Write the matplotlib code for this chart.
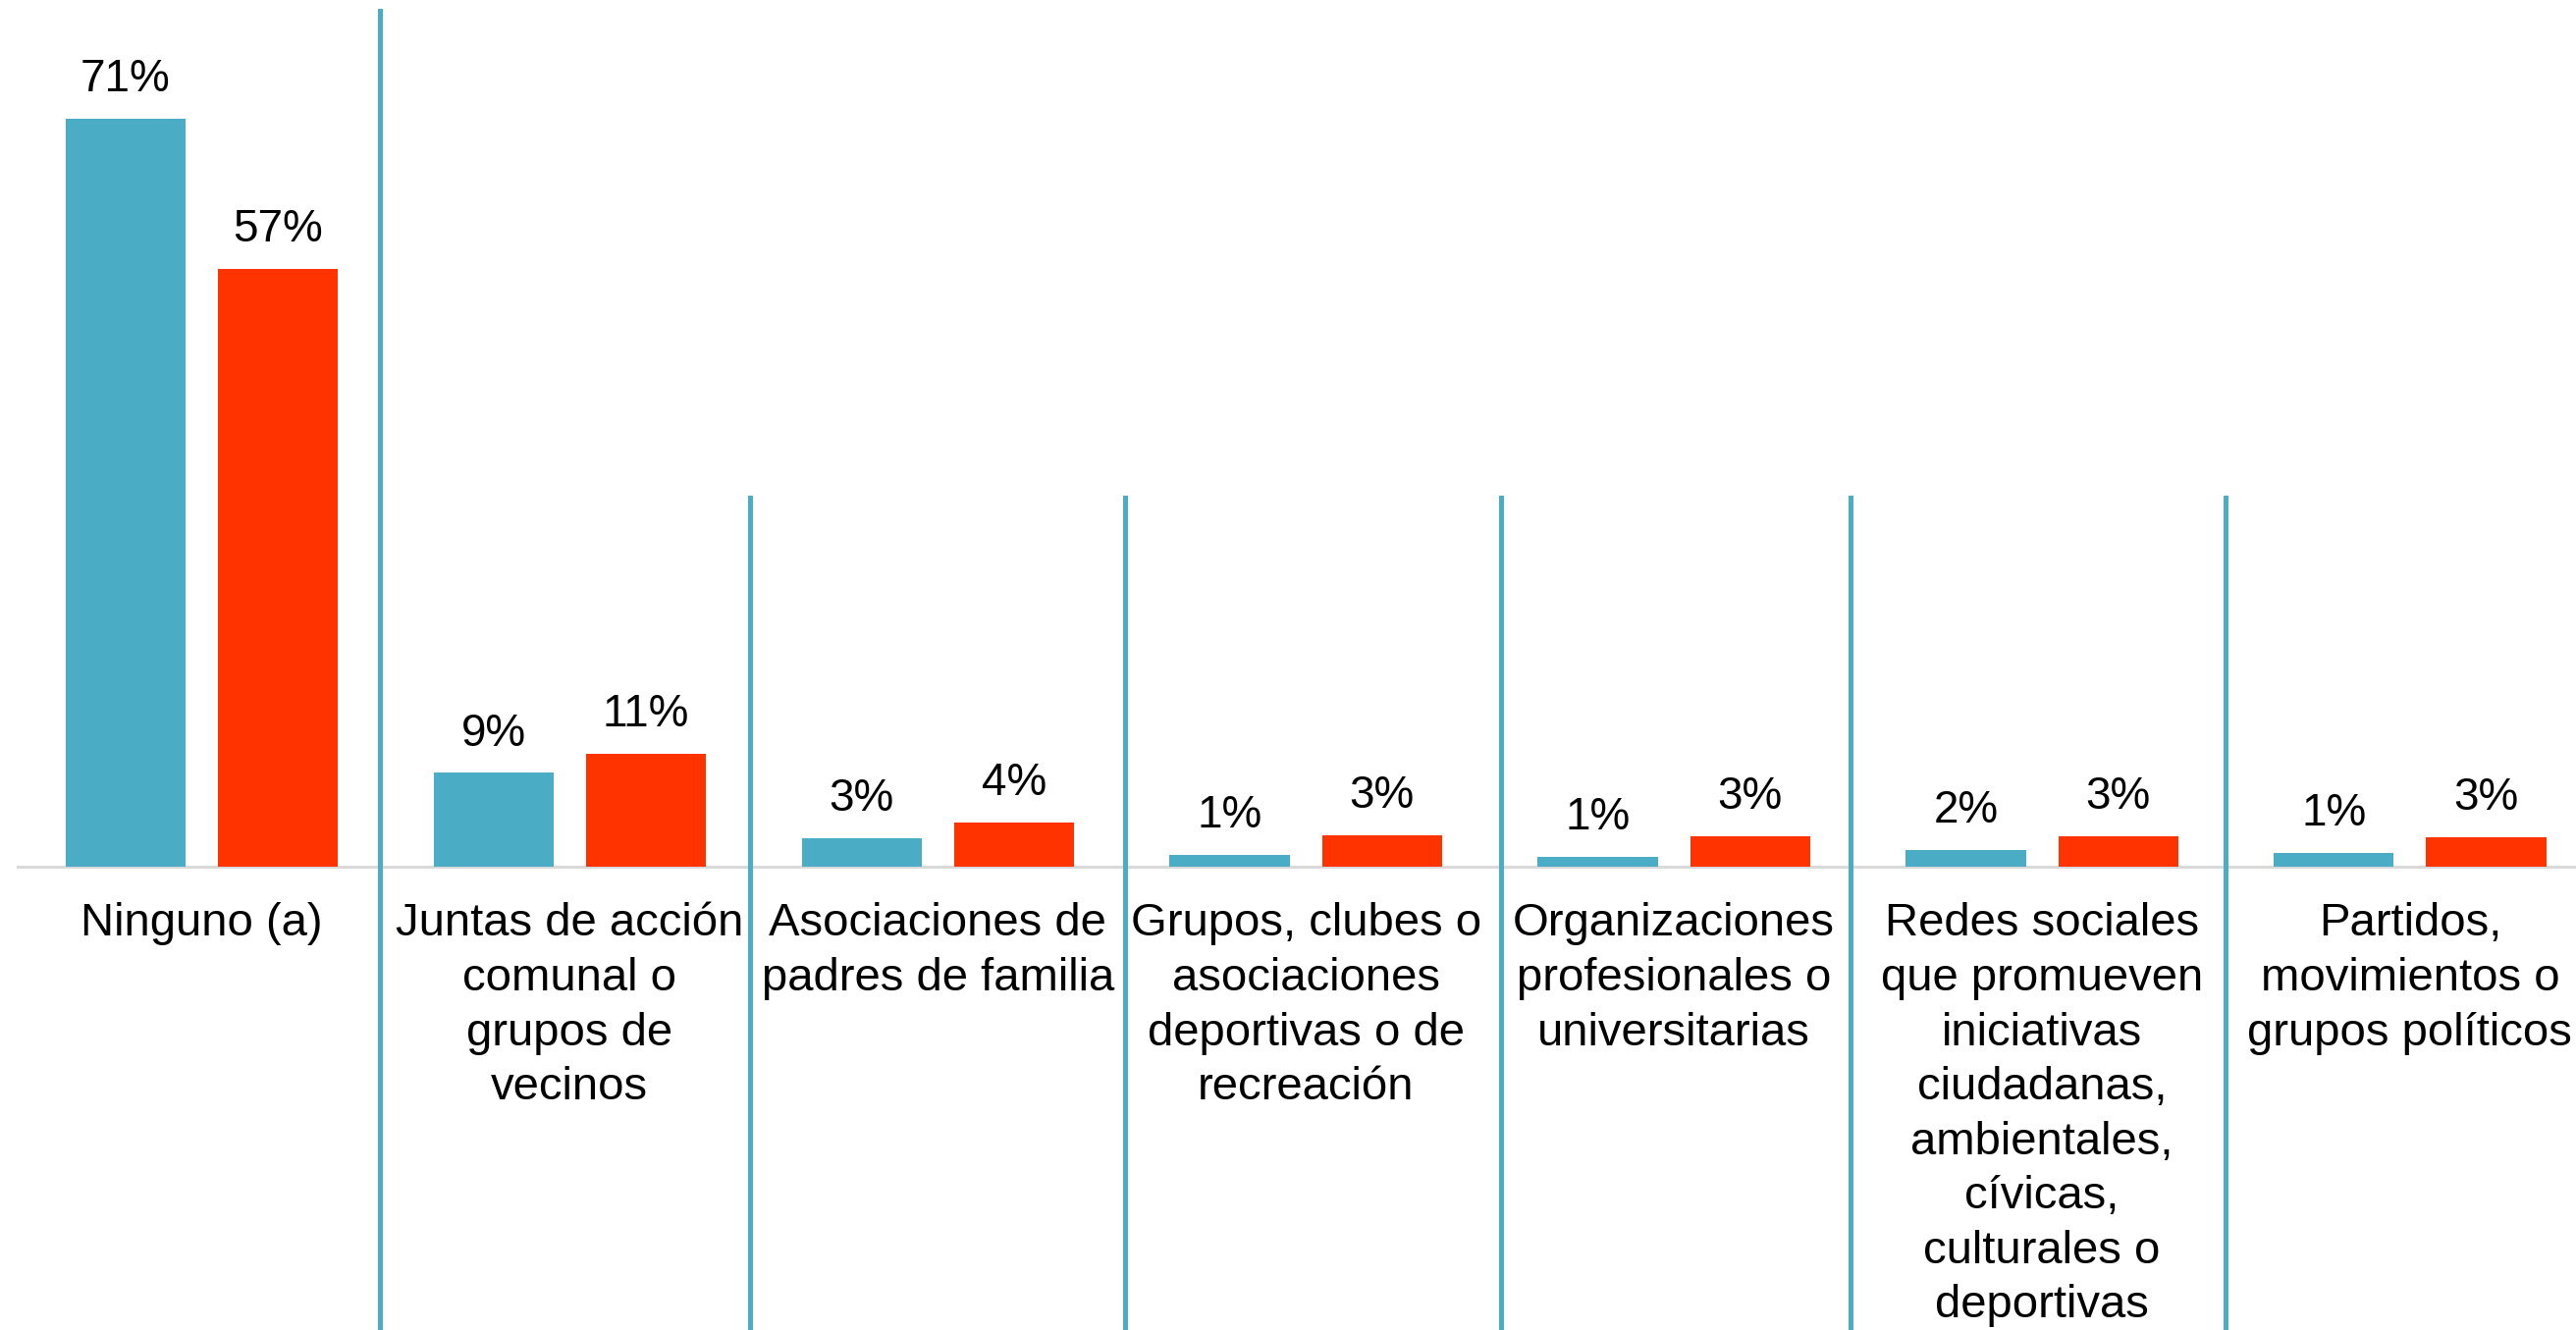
import matplotlib.pyplot as plt

# Data
categorias = [
    'Ninguno (a)',
    'Juntas de acción\ncomunal o\ngrupos de\nvecinos',
    'Asociaciones de\npadres de familia',
    'Grupos, clubes o\nasociaciones\ndeportivas o de\nrecreación',
    'Organizaciones\nprofesionales o\nuniversitarias',
    'Redes sociales\nque promueven\niniciativas\nciudadanas,\nambientales,\ncívicas,\nculturales o\ndeportivas',
    'Partidos,\nmovimientos o\ngrupos políticos',
]
serie_azul = [71.0, 8.9, 2.7, 1.1, 0.95, 1.6, 1.3]
serie_roja = [56.8, 10.7, 4.2, 3.0, 2.9, 2.9, 2.8]

# Separators between groups (x in group units), and how high each starts
separadores = [0.485, 1.49, 2.51, 3.53, 4.48, 5.50]
altura_sep = [81.3, 35.0, 35.0, 35.0, 35.0, 35.0]

azul = '#4BACC6'
rojo = '#FF3300'

plt.rcParams['font.family'] = ['Liberation Sans', 'DejaVu Sans']

fig = plt.figure(figsize=(26.24, 13.55), dpi=100)
ax = fig.add_axes([0, 0, 1, 1])

x = list(range(len(categorias)))
w = 0.326
off = 0.207
b1 = ax.bar([i - off for i in x], serie_azul, width=w, color=azul, zorder=2)
b2 = ax.bar([i + off for i in x], serie_roja, width=w, color=rojo, zorder=2)

for bars, vals in ((b1, serie_azul), (b2, serie_roja)):
    for rect, v in zip(bars, vals):
        ax.annotate(f'{v:.0f}%', (rect.get_x() + rect.get_width() / 2, v),
                    xytext=(0, 20), textcoords='offset points',
                    ha='center', va='baseline', fontsize=33, color='black')

# baseline
ax.plot([-0.5, 6.5], [0, 0], color='#D9D9D9', lw=2.2, zorder=1, clip_on=False)

# vertical separators
for sx, top in zip(separadores, altura_sep):
    ax.plot([sx, sx], [-50, top], color=azul, lw=3.6, zorder=3)

# category labels
for i, lab in enumerate(categorias):
    ax.text(i, -3.4, lab, ha='center', va='top', fontsize=34,
            linespacing=1.34, color='black')

ax.set_xlim(-0.548, 6.451)
ax.set_ylim(-44.0, 82.3)
ax.axis('off')

fig.savefig('out.png', dpi=100, facecolor='white')
